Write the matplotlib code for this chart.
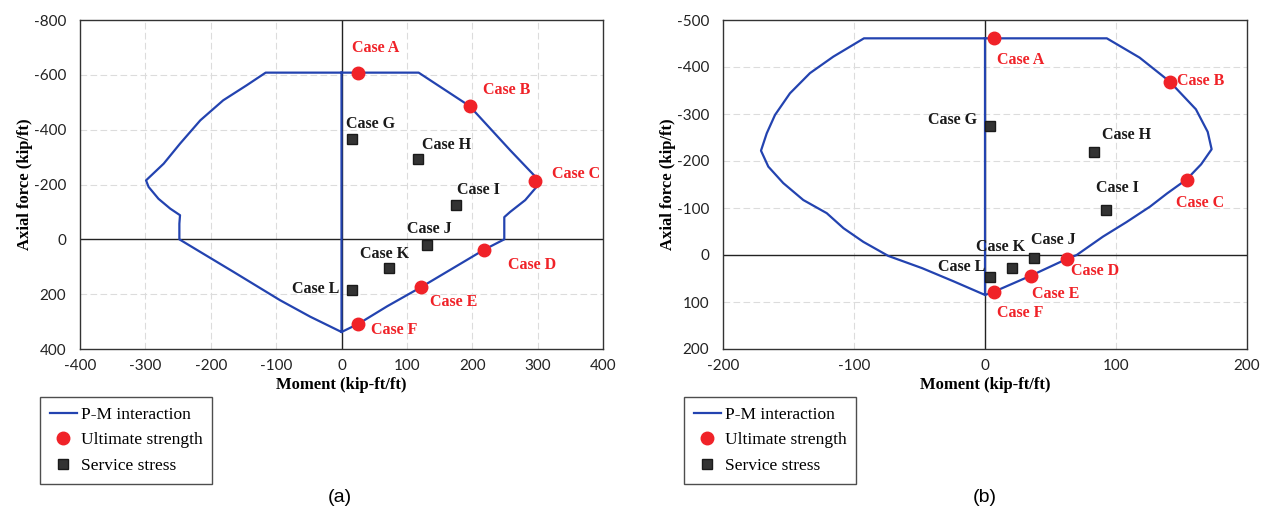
import matplotlib.pyplot as plt

plt.rcParams['axes.unicode_minus'] = False

# ---- panel (a) ----
pm_a_m = [0, -48, -94, -165, -216, -248, -248, -247, -262, -280, -295, -299, -272, -247,
          -216, -181, -145, -116, 0, 118, 196, 258, 300, 304, 281, 258, 249, 249, 218,
          170, 122, 70, 26, 0, 0]
pm_a_p = [338, 282, 222, 119, 46, 0, -57, -88, -112, -148, -191, -215, -276, -349,
          -434, -507, -562, -608, -608, -608, -486, -325, -220, -207, -143, -100, -81, 0, 38,
          106, 174, 244, 308, 338, -608]
ult_a_m = [25.7, 196, 296, 218, 121.6, 25.7]
ult_a_p = [-608, -485, -211, 38, 174, 308]
serv_a_m = [15.6, 117.5, 175, 131, 73, 15.6]
serv_a_p = [-365, -292, -126, 22, 103, 184]

# ---- panel (b) ----
pm_b_m = [0, -24, -48, -73.8, -92.9, -108, -120.8, -138.7, -154, -165.4, -171, -166.6,
          -160.3, -148.9, -133.6, -115.8, -92.4, 0, 93, 118, 141, 161, 170, 173, 165, 154,
          139, 126, 108, 90, 70, 62, 35, 7, 0, 0]
pm_b_p = [85, 56, 28, 2, -28, -57, -89, -117, -153, -188, -222, -259,
          -298, -344, -387, -422, -461, -461, -461, -420, -369, -310, -262, -225, -193, -161,
          -131, -103, -70, -39, 0, 9, 44, 78, 85, -461]
ult_b_m = [6.9, 141, 154, 62.3, 35, 6.9]
ult_b_p = [-461, -369, -160, 9, 44.7, 78]
serv_b_m = [3.8, 83.2, 92.1, 37.4, 20.8, 3.8]
serv_b_p = [-275, -220, -96, 7, 27, 47.5]

ult_names = ['Case A', 'Case B', 'Case C', 'Case D', 'Case E', 'Case F']
serv_names = ['Case G', 'Case H', 'Case I', 'Case J', 'Case K', 'Case L']

# label centres (layout)
ult_lab_a = [(52, -698), (252, -546), (359, -237), (292, 92), (172, 229), (80, 330)]
serv_lab_a = [(45, -419), (160, -343), (210, -181), (135, -39), (66, 52), (-40, 180)]
ult_lab_b = [(27, -415), (165, -371), (164, -110), (84, 33), (54, 82), (27, 124)]
serv_lab_b = [(-25, -287), (108, -255), (101, -142), (52, -32), (12, -16), (-18, 25)]

BLUE = '#2343b0'
RED = '#f02228'
DARK = '#333333'
SERIF = 'Liberation Serif'
SANS = 'Lato'


def draw_panel(ax, pm_m, pm_p, um, up, sm, sp, ulab, slab, xlim, xstep, ylim, ystep):
    ax.set_xlim(*xlim)
    ax.set_ylim(ylim[1], ylim[0])
    xt = list(range(xlim[0], xlim[1] + 1, xstep))
    yt = list(range(ylim[0], ylim[1] + 1, ystep))
    ax.set_xticks(xt)
    ax.set_yticks(yt)
    for v in xt:
        if v not in (xlim[0], xlim[1], 0):
            ax.axvline(v, color='#dcdcdc', lw=0.8, ls=(0, (6, 3)), zorder=0)
    for v in yt:
        if v not in (ylim[0], ylim[1], 0):
            ax.axhline(v, color='#dcdcdc', lw=0.8, ls=(0, (6, 3)), zorder=0)
    ax.axvline(0, color='#222222', lw=1.0, zorder=1)
    ax.axhline(0, color='#222222', lw=1.0, zorder=1)

    ax.plot(pm_m, pm_p, color=BLUE, lw=1.6, zorder=2, label='P-M interaction')
    ax.plot(um, up, 'o', ls='none', color=RED, ms=9, zorder=4, label='Ultimate strength')
    ax.plot(sm, sp, 's', ls='none', color=DARK, mec='#1a1a1a', ms=6.5, zorder=3,
            label='Service stress')

    for name, (x, y) in zip(ult_names, ulab):
        ax.text(x, y, name, color=RED, fontsize=11.5, fontweight='bold', family=SERIF,
                ha='center', va='center', zorder=5)
    for name, (x, y) in zip(serv_names, slab):
        ax.text(x, y, name, color='#1a1a1a', fontsize=11.5, fontweight='bold', family=SERIF,
                ha='center', va='center', zorder=5)

    for s in ax.spines.values():
        s.set_color('#333333')
        s.set_linewidth(1.0)
    ax.tick_params(length=0, labelsize=11, colors='#222222')
    ax.tick_params(axis='x', pad=7)
    ax.tick_params(axis='y', pad=10)
    for t in ax.get_xticklabels() + ax.get_yticklabels():
        t.set_family(SANS)
    ax.set_xlabel('Moment (kip-ft/ft)', fontsize=12, fontweight='bold', family=SERIF)
    ax.set_ylabel('Axial force (kip/ft)', fontsize=12, fontweight='bold', family=SERIF)
    ax.xaxis.set_label_coords(0.5, -0.085)
    ax.yaxis.set_label_coords(-0.09, 0.5)


fig = plt.figure(figsize=(12.62, 5.14), dpi=100)
W, H = 1262, 514
ax_a = fig.add_axes([80 / W, 1 - 349 / H, 523 / W, 329 / H])
ax_b = fig.add_axes([723 / W, 1 - 349 / H, 524 / W, 329 / H])

draw_panel(ax_a, pm_a_m, pm_a_p, ult_a_m, ult_a_p, serv_a_m, serv_a_p,
           ult_lab_a, serv_lab_a, (-400, 400), 100, (-800, 400), 200)
draw_panel(ax_b, pm_b_m, pm_b_p, ult_b_m, ult_b_p, serv_b_m, serv_b_p,
           ult_lab_b, serv_lab_b, (-200, 200), 100, (-500, 200), 100)

for ax, lx in ((ax_a, 40), (ax_b, 684)):
    leg = ax.legend(loc='upper left', bbox_to_anchor=(lx / W, 1 - 397 / H),
                    bbox_transform=fig.transFigure, frameon=True, fancybox=False,
                    edgecolor='#222222', prop={'family': SERIF, 'size': 12.5},
                    handlelength=1.6, handletextpad=0.2, borderpad=0.55,
                    labelspacing=0.55, borderaxespad=0)
    leg.get_frame().set_linewidth(1.0)

fig.text(340 / W, 1 - 498 / H, '(a)', fontsize=14, family='Liberation Sans',
         ha='center', va='center')
fig.text(985 / W, 1 - 498 / H, '(b)', fontsize=14, family='Liberation Sans',
         ha='center', va='center')

fig.savefig('out.png', dpi=100)
